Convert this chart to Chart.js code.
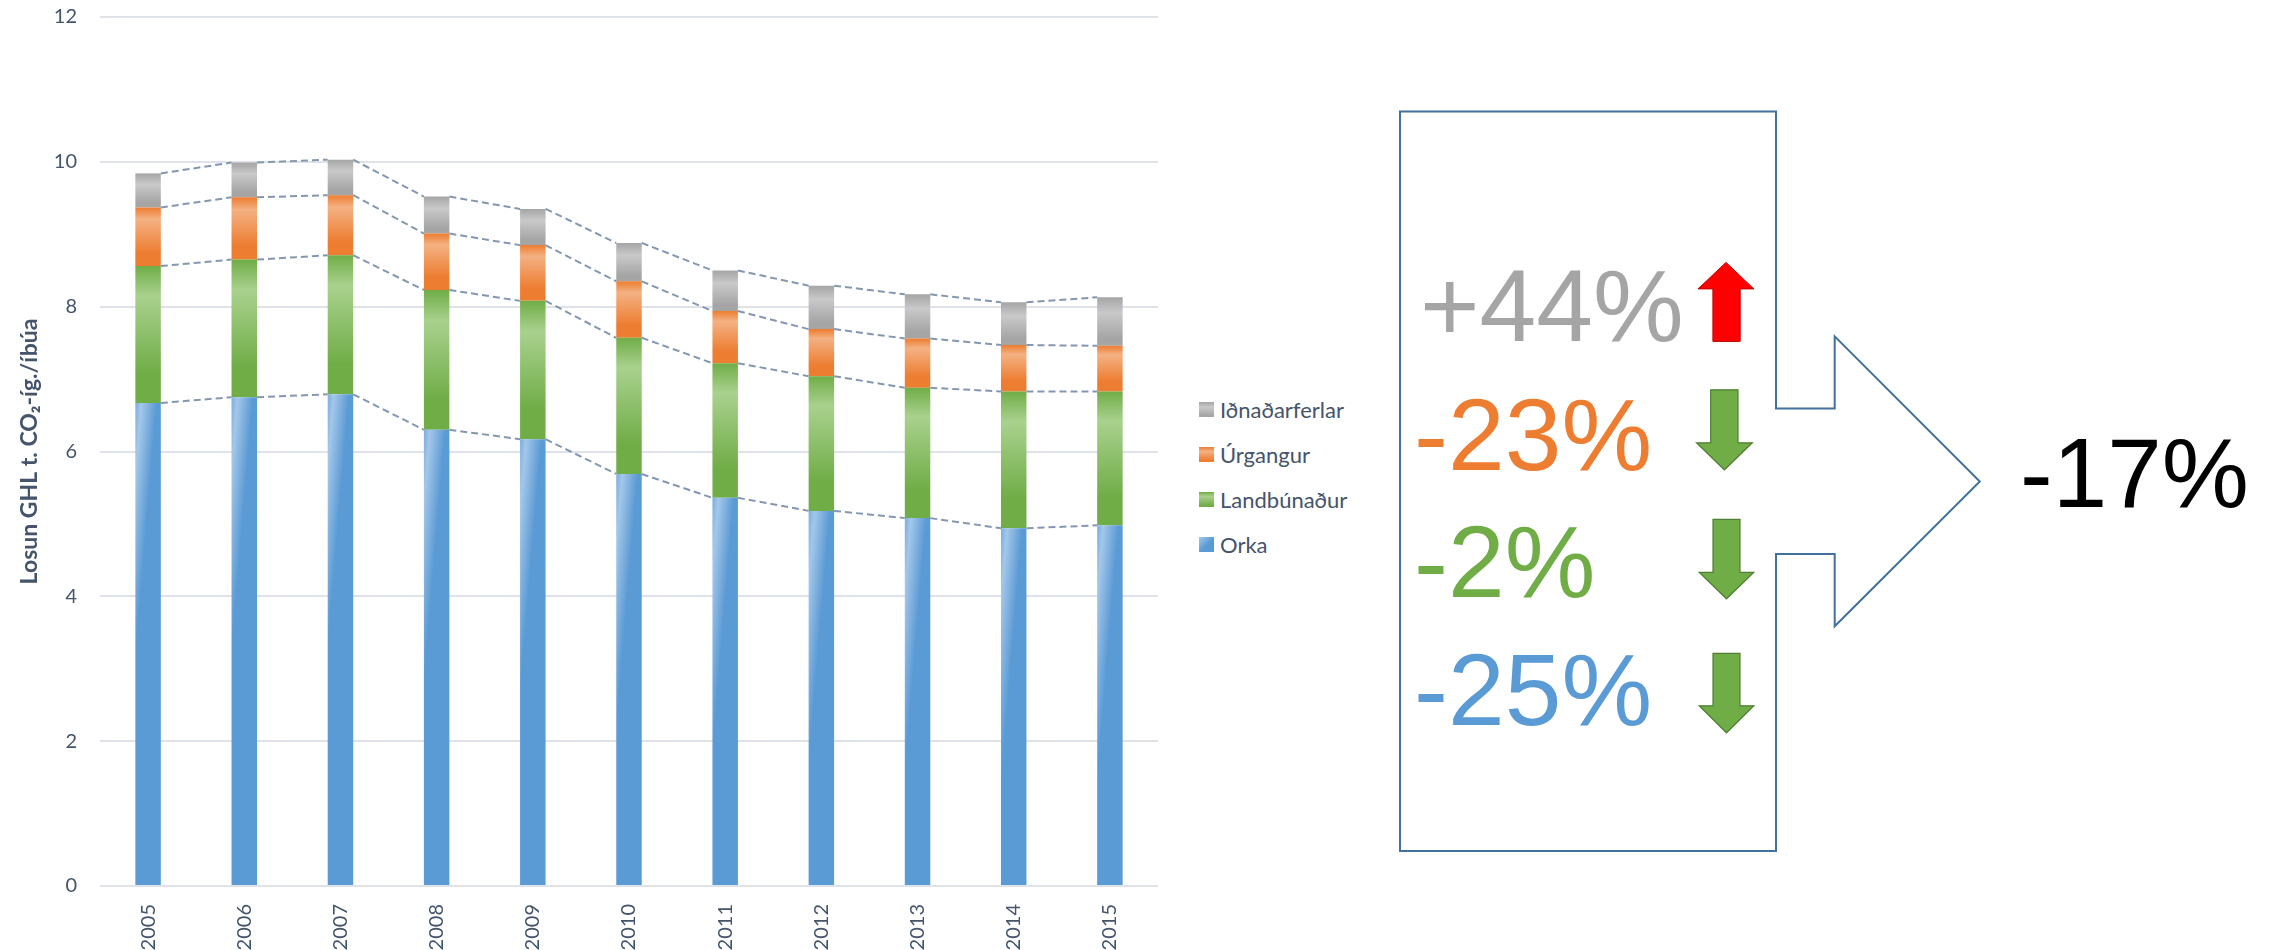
<!DOCTYPE html>
<html>
<head>
<meta charset="utf-8">
<script src="https://cdn.jsdelivr.net/npm/chart.js@4.4.1/dist/chart.umd.min.js"></script>
<style>
  body { margin: 0; background: #fff; width: 2270px; height: 950px; overflow: hidden; position: relative; font-family: Lato, "DejaVu Sans", sans-serif; }
  #wrap { position: absolute; left: 0; top: 0; width: 1160px; height: 950px; }
  #legend { position: absolute; left: 1199px; top: 387px; color: #44546a; font-size: 22px; }
  #legend .item { height: 45px; display: flex; align-items: center; }
  #legend .sw { width: 15px; height: 15px; margin-right: 6px; }
  #overlay { position: absolute; left: 0; top: 0; }
</style>
</head>
<body>
<div id="wrap"><canvas id="myChart"></canvas></div>
<div id="legend"></div>
<svg id="overlay" width="2270" height="950">
  <!-- ramma með ör til hægri -->
  <path d="M1400,111.5 L1776,111.5 L1776,408.6 L1834.7,408.6 L1834.7,336.3 L1979.8,481.5 L1834.7,626.3 L1834.7,553.9 L1776,553.9 L1776,851 L1400,851 Z"
        fill="none" stroke="#41719c" stroke-width="2"/>
  <g font-family="'Liberation Sans', Arial, sans-serif" font-size="102">
    <text x="1420" y="341" fill="#a5a5a5">+44%</text>
    <text x="1414" y="470" fill="#ed7d31">-23%</text>
    <text x="1414" y="597" fill="#70ad47">-2%</text>
    <text x="1414" y="725" fill="#5b9bd5">-25%</text>
    <text x="2020" y="507" fill="#000000" font-size="98">-17%</text>
  </g>
  <!-- örvar -->
  <path d="M1726,262.4 L1753.8,288.9 L1740.2,288.9 L1740.2,341.4 L1712.9,341.4 L1712.9,288.9 L1698,288.9 Z" fill="#ff0000" stroke="#c00000" stroke-width="1"/>
  <path d="M1710.7,389.8 L1738,389.8 L1738,442.8 L1752.3,442.8 L1724.4,469.8 L1696.5,442.8 L1710.7,442.8 Z" fill="#70ad47" stroke="#507e32" stroke-width="1.2"/>
  <path d="M1713,519.3 L1740,519.3 L1740,572.3 L1753.8,572.3 L1726.5,598.8 L1699.2,572.3 L1713,572.3 Z" fill="#70ad47" stroke="#507e32" stroke-width="1.2"/>
  <path d="M1713,653.3 L1740,653.3 L1740,705.8 L1753.8,705.8 L1726.5,732.8 L1699.2,705.8 L1713,705.8 Z" fill="#70ad47" stroke="#507e32" stroke-width="1.2"/>
</svg>
<script>
// gögn lesin af myndinni
const years = ['2005', '2006', '2007', '2008', '2009', '2010', '2011', '2012', '2013', '2014', '2015'];
const orka = [6.67, 6.75, 6.79, 6.30, 6.17, 5.69, 5.36, 5.18, 5.08, 4.94, 4.98];
const landbunadur = [1.89, 1.90, 1.92, 1.93, 1.91, 1.88, 1.86, 1.86, 1.80, 1.89, 1.85];
const urgangur = [0.81, 0.86, 0.83, 0.78, 0.77, 0.78, 0.72, 0.65, 0.68, 0.64, 0.63];
const idnadarferlar = [0.47, 0.48, 0.49, 0.51, 0.50, 0.53, 0.56, 0.60, 0.61, 0.59, 0.67];
const seriesNames = ['Orka', 'Landbúnaður', 'Úrgangur', 'Iðnaðarferlar'];
const yMin = 0, yMax = 12, yStep = 2;
const yTitle = 'Losun GHL t. CO\u2082-íg./íbúa';

const barPct = 0.265;
const textColor = '#44546a';

// litir
const blueStops = [[0, '#7aaedf'], [0.12, '#a3c7e9'], [0.42, '#5b9bd5'], [1, '#5b9bd5']];
const greenStops = [[0, '#70ad47'], [0.22, '#a9d18e'], [0.78, '#70ad47'], [1, '#70ad47']];
const orangeStops = [[0, '#ed7d31'], [0.2, '#f4b183'], [0.78, '#ed7d31'], [1, '#ed7d31']];
const grayStops = [[0, '#a5a5a5'], [0.32, '#c9c9c9'], [0.85, '#a5a5a5'], [1, '#a5a5a5']];

function segmentBox(chart, d, i) {
  const xs = chart.scales.x, ys = chart.scales.y;
  let base = 0;
  for (let k = 0; k < d; k++) base += chart.data.datasets[k].data[i];
  const val = chart.data.datasets[d].data[i];
  const cx = xs.getPixelForValue(i);
  const w = xs.width / years.length * barPct;
  return { left: cx - w / 2, right: cx + w / 2, top: ys.getPixelForValue(base + val), bottom: ys.getPixelForValue(base) };
}

function vertFill(stops) {
  return (ctx) => {
    const chart = ctx.chart;
    if (!chart.chartArea || ctx.type !== 'data') return stops[stops.length - 1][1];
    const b = segmentBox(chart, ctx.datasetIndex, ctx.dataIndex);
    const g = chart.ctx.createLinearGradient(0, b.top, 0, b.bottom);
    stops.forEach(s => g.addColorStop(s[0], s[1]));
    return g;
  };
}

// ská litun á bláu súlunum, ljós rönd efst til vinstri
function blueFill(ctx) {
  const chart = ctx.chart;
  if (!chart.chartArea || ctx.type !== 'data') return '#5b9bd5';
  const b = segmentBox(chart, ctx.datasetIndex, ctx.dataIndex);
  const w = b.right - b.left;
  const a = 0.5 / w, bb = 0.5 / 300;
  const n = a * a + bb * bb;
  const g = chart.ctx.createLinearGradient(b.left, b.top, b.left + a / n, b.top + bb / n);
  blueStops.forEach(s => g.addColorStop(s[0], s[1]));
  return g;
}

// strikalínur milli súlna
const seriesLines = {
  id: 'seriesLines',
  afterDatasetsDraw(chart) {
    const c = chart.ctx;
    c.save();
    c.strokeStyle = '#8497b0';
    c.lineWidth = 2;
    c.setLineDash([7, 4]);
    chart.data.datasets.forEach((ds, d) => {
      const bars = chart.getDatasetMeta(d).data;
      for (let i = 0; i < bars.length - 1; i++) {
        const p = bars[i], q = bars[i + 1];
        c.beginPath();
        c.moveTo(p.x + p.width / 2, p.y);
        c.lineTo(q.x - q.width / 2, q.y);
        c.stroke();
      }
    });
    c.restore();
  }
};

const myChart = new Chart('myChart', {
  type: 'bar',
  data: {
    labels: years,
    datasets: [
      { label: seriesNames[0], data: orka, backgroundColor: blueFill },
      { label: seriesNames[1], data: landbunadur, backgroundColor: vertFill(greenStops) },
      { label: seriesNames[2], data: urgangur, backgroundColor: vertFill(orangeStops) },
      { label: seriesNames[3], data: idnadarferlar, backgroundColor: vertFill(grayStops) }
    ]
  },
  options: {
    responsive: true,
    maintainAspectRatio: false,
    animation: false,
    barPercentage: barPct,
    categoryPercentage: 1,
    layout: { padding: { top: 17, right: 2, left: 0, bottom: 0 } },
    plugins: { legend: { display: false }, tooltip: { enabled: false } },
    scales: {
      x: {
        stacked: true,
        grid: { display: false },
        border: { display: false },
        ticks: { color: textColor, font: { family: 'Lato', size: 20 }, minRotation: 90, maxRotation: 90, padding: 10 },
        afterFit: (scale) => { scale.height = 64; }
      },
      y: {
        stacked: true,
        min: yMin,
        max: yMax,
        grid: { color: '#dfe2e8', lineWidth: 2, drawTicks: false },
        border: { display: false },
        ticks: { stepSize: yStep, color: textColor, font: { family: 'Lato', size: 20 }, padding: 23 },
        title: { display: true, text: yTitle, color: textColor, font: { family: 'Lato', size: 23, weight: 'bold' }, padding: { top: 16, bottom: 0 } },
        afterFit: (scale) => {
          scale.width = 100;
          scale.paddingTop = 0;
          scale.paddingBottom = 0;
        }
      }
    }
  },
  plugins: [seriesLines]
});

// skýringar, efsta röðin efst
const swatchCss = {
  'Orka': 'linear-gradient(135deg, #a3c7e9 0%, #5b9bd5 55%)',
  'Landbúnaður': 'linear-gradient(180deg, #70ad47 0%, #a9d18e 30%, #70ad47 90%)',
  'Úrgangur': 'linear-gradient(180deg, #ed7d31 0%, #f4b183 30%, #ed7d31 90%)',
  'Iðnaðarferlar': 'linear-gradient(180deg, #a5a5a5 0%, #c9c9c9 35%, #a5a5a5 90%)'
};
const legendEl = document.getElementById('legend');
myChart.data.datasets.slice().reverse().forEach(ds => {
  const row = document.createElement('div');
  row.className = 'item';
  const sw = document.createElement('div');
  sw.className = 'sw';
  sw.style.background = swatchCss[ds.label];
  const tx = document.createElement('span');
  tx.textContent = ds.label;
  row.appendChild(sw);
  row.appendChild(tx);
  legendEl.appendChild(row);
});
</script>
</body>
</html>
